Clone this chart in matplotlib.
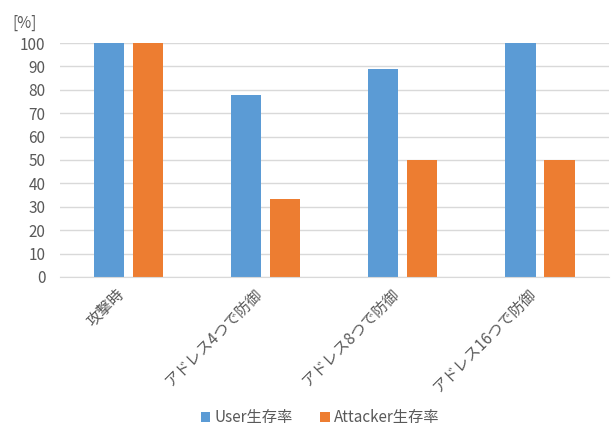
import numpy as np
import matplotlib.pyplot as plt
import matplotlib.transforms as mtransforms

plt.rcParams['font.family'] = ['Noto Sans CJK JP', 'DejaVu Sans']

categories = ["攻撃時", "アドレス4つで防御", "アドレス8つで防御", "アドレス16つで防御"]
user_rate = [100, 77.8, 88.9, 100]
attacker_rate = [100, 33.3, 50, 50]
series_names = ["User生存率", "Attacker生存率"]
yticks = list(range(0, 101, 10))

blue = "#5b9bd5"
orange = "#ed7d31"
gray = "#595959"

fig = plt.figure(figsize=(6.16, 4.30), dpi=100)
ax = fig.add_axes([0.0966, 0.356, 0.8914, 0.544])

x = np.arange(len(categories))
w = 0.22
ax.bar(x - 0.142, user_rate, w, color=blue, label=series_names[0], clip_on=False)
ax.bar(x + 0.142, attacker_rate, w, color=orange, label=series_names[1], clip_on=False)

ax.set_xlim(-0.5, len(categories) - 0.5)
ax.set_ylim(0, 100)
ax.set_yticks(yticks)
ax.yaxis.grid(True, color="#d9d9d9", linewidth=1)
ax.set_axisbelow(True)
for s in ["top", "right", "left"]:
    ax.spines[s].set_visible(False)
ax.spines["bottom"].set_color("#d9d9d9")
ax.tick_params(axis="both", length=0, colors=gray, labelsize=11)
ax.tick_params(axis="y", pad=10)

# rotated category labels, nudged so they end just left of the group centre
ax.set_xticks(x)
ax.set_xticklabels(categories, rotation=45, ha="right", rotation_mode="anchor",
                   fontsize=11, color=gray)
offset = mtransforms.ScaledTranslation(-0.12, -0.04, fig.dpi_scale_trans)
for lbl in ax.get_xticklabels():
    lbl.set_transform(lbl.get_transform() + offset)

fig.text(0.02, 0.945, "[%]", fontsize=11, color=gray, va="center")

fig.legend(loc="center", bbox_to_anchor=(0.52, 0.028), ncol=2, frameon=False,
           fontsize=11, labelcolor=gray, handlelength=0.6, handleheight=0.6,
           handletextpad=0.3, columnspacing=1.8)

fig.savefig("out.png", dpi=100)
